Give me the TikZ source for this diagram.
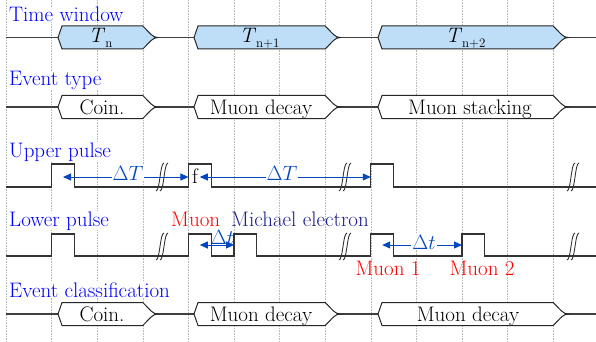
\documentclass[tikz,border=0pt]{standalone}
\usepackage{xcolor}
\usepackage{tikz}
\usetikzlibrary{arrows.meta}

\definecolor{rowblue}{RGB}{0,0,255}
\definecolor{arrowblue}{RGB}{0,70,190}
\definecolor{navyblue}{RGB}{28,28,140}
\definecolor{winfill}{RGB}{190,222,248}
\definecolor{sigline}{RGB}{64,64,64}

\begin{document}
\begin{tikzpicture}[
x=1pt, y=-1pt,
font=\fontsize{21}{25}\selectfont,
grid/.style={densely dotted, gray!55, line width=0.6pt},
sig/.style={sigline, line width=1.3pt},
pulse/.style={black!80, line width=1.2pt},
box/.style={draw=black!85, line width=1pt, fill=white},
row/.style={anchor=base west, inner sep=0pt, fill=white, text=rowblue},
lab/.style={anchor=base, inner sep=0pt},
dt/.style={anchor=base, inner sep=1pt, text=arrowblue},
arr/.style={{Triangle[length=8pt,width=7pt]}-{Triangle[length=8pt,width=7pt]}, arrowblue, line width=1pt},
brk/.style={black!80, line width=0.9pt}
]
\useasboundingbox (0,0) rectangle (596,342);

% Grid
\draw[grid] (6,0) -- (6,342) (51.6,0) -- (51.6,342) (97.2,0) -- (97.2,342)
  (142.8,0) -- (142.8,342) (188.4,0) -- (188.4,342) (234,0) -- (234,342)
  (279.6,0) -- (279.6,342) (325.2,0) -- (325.2,342) (370.8,0) -- (370.8,342)
  (416.4,0) -- (416.4,342) (462,0) -- (462,342) (507.6,0) -- (507.6,342)
  (553.2,0) -- (553.2,342);

% Row labels
\node[row] (twlab) at (9,21.5) {Time window};
\node[row] (etlab) at (9,85) {Event type};
\node[row] (uplab) at (9,157) {Upper pulse};
\node[row] (lplab) at (9,226) {Lower pulse};
\node[row] (eclab) at (9,297) {Event classification};

% Time window
\draw[sig] (6,37.5) -- (596,37.5);
\draw[box, fill=winfill] (58,37.5) -- (62,26) -- (142.8,26) .. controls (150.8,34) and (152.8,37.5) .. (157.8,37.5)
  .. controls (152.8,37.5) and (150.8,41) .. (142.8,49) -- (62,49) -- cycle;
\draw[box, fill=winfill] (194,37.5) -- (198,26) -- (325.2,26) .. controls (333.2,34) and (335.2,37.5) .. (340.2,37.5)
  .. controls (335.2,37.5) and (333.2,41) .. (325.2,49) -- (198,49) -- cycle;
\draw[box, fill=winfill] (378,37.5) -- (382,26) -- (553.2,26) .. controls (561.2,34) and (563.2,37.5) .. (568.2,37.5)
  .. controls (563.2,37.5) and (561.2,41) .. (553.2,49) -- (382,49) -- cycle;
\node[lab] (tn) at (100.5,43) {\textit{T}\raisebox{-5pt}{\fontsize{13}{13}\selectfont n}};
\node[lab] (tn1) at (259.5,43) {\textit{T}\raisebox{-5pt}{\fontsize{13}{13}\selectfont n+1}};
\node[lab] (tn2) at (465.5,43) {\textit{T}\raisebox{-5pt}{\fontsize{13}{13}\selectfont n+2}};

% Event type
\draw[sig] (6,107) -- (596,107);
\draw[box] (58,107) -- (62,95.5) -- (142.8,95.5) .. controls (150.8,103.5) and (152.8,107) .. (157.8,107)
  .. controls (152.8,107) and (150.8,110.5) .. (142.8,118.5) -- (62,118.5) -- cycle;
\draw[box] (194,107) -- (198,95.5) -- (325.2,95.5) .. controls (333.2,103.5) and (335.2,107) .. (340.2,107)
  .. controls (335.2,107) and (333.2,110.5) .. (325.2,118.5) -- (198,118.5) -- cycle;
\draw[box] (378,107) -- (382,95.5) -- (553.2,95.5) .. controls (561.2,103.5) and (563.2,107) .. (568.2,107)
  .. controls (563.2,107) and (561.2,110.5) .. (553.2,118.5) -- (382,118.5) -- cycle;
\node[lab] (et1) at (102,114) {Coin.};
\node[lab] (et2) at (261,114) {Muon decay};
\node[lab] (et3) at (470,114) {Muon stacking};

% Upper pulse
\draw[pulse] (6,187) -- (51.6,187) -- (51.6,164) -- (74.4,164) -- (74.4,187) -- (188.4,187) -- (188.4,164)
  -- (211.2,164) -- (211.2,187) -- (370.8,187) -- (370.8,164) -- (393.6,164) -- (393.6,187) -- (596,187);
\draw[brk] (156,191) .. controls (160,191) and (160,163) .. (164,163);
\draw[brk] (160,191) .. controls (164,191) and (164,163) .. (168,163);
\draw[brk] (339,191) .. controls (343,191) and (343,163) .. (347,163);
\draw[brk] (343,191) .. controls (347,191) and (347,163) .. (351,163);
\draw[brk] (567,191) .. controls (571,191) and (571,163) .. (575,163);
\draw[brk] (571,191) .. controls (575,191) and (575,163) .. (579,163);
\node[lab] (fl) at (195,183) {f};
\coordinate (u1) at (63,177);
\coordinate (u2) at (188.4,177);
\coordinate (u3) at (199.8,177);
\coordinate (u4) at (370.8,177);
\draw[arr] (u1) -- (u2);
\draw[arr] (u3) -- (u4);
\node[dt, fill=white] (dT1) at (128,180) {$\Delta T$};
\node[dt, fill=white] (dT2) at (282,180) {$\Delta T$};

% Lower pulse
\draw[pulse] (6,256) -- (51.6,256) -- (51.6,234) -- (74.4,234) -- (74.4,256) -- (188.4,256) -- (188.4,234)
  -- (211.2,234) -- (211.2,256) -- (234,256) -- (234,234) -- (256.8,234) -- (256.8,256) -- (370.8,256)
  -- (370.8,234) -- (393.6,234) -- (393.6,256) -- (462,256) -- (462,234) -- (484.8,234) -- (484.8,256) -- (596,256);
\draw[brk] (156,260) .. controls (160,260) and (160,233) .. (164,233);
\draw[brk] (160,260) .. controls (164,260) and (164,233) .. (168,233);
\draw[brk] (339,260) .. controls (343,260) and (343,233) .. (347,233);
\draw[brk] (343,260) .. controls (347,260) and (347,233) .. (351,233);
\draw[brk] (567,260) .. controls (571,260) and (571,233) .. (575,233);
\draw[brk] (571,260) .. controls (575,260) and (575,233) .. (579,233);
\node[lab, anchor=base west, text=red] (mu) at (171,226) {Muon};
\node[lab, anchor=base west, text=navyblue] (mich) at (231,226) {Michael electron};
\coordinate (l1) at (199.8,245);
\coordinate (l2) at (234,245);
\coordinate (l3) at (382.2,245);
\coordinate (l4) at (462,245);
\draw[arr] (l1) -- (l2);
\draw[arr] (l3) -- (l4);
\node[dt, inner sep=0pt] (dt1) at (222.5,244) {$\Delta t$};
\node[dt, fill=white] (dt2) at (424,249) {$\Delta t$};
\node[lab, text=red] (mu1) at (388,275) {Muon 1};
\node[lab, text=red] (mu2) at (482,275) {Muon 2};

% Event classification
\draw[sig] (6,314) -- (596,314);
\draw[box] (58,314) -- (62,302.5) -- (142.8,302.5) .. controls (150.8,310.5) and (152.8,314) .. (157.8,314)
  .. controls (152.8,314) and (150.8,317.5) .. (142.8,325.5) -- (62,325.5) -- cycle;
\draw[box] (194,314) -- (198,302.5) -- (325.2,302.5) .. controls (333.2,310.5) and (335.2,314) .. (340.2,314)
  .. controls (335.2,314) and (333.2,317.5) .. (325.2,325.5) -- (198,325.5) -- cycle;
\draw[box] (378,314) -- (382,302.5) -- (553.2,302.5) .. controls (561.2,310.5) and (563.2,314) .. (568.2,314)
  .. controls (563.2,314) and (561.2,317.5) .. (553.2,325.5) -- (382,325.5) -- cycle;
\node[lab] (ec1) at (102,321) {Coin.};
\node[lab] (ec2) at (261,321) {Muon decay};
\node[lab] (ec3) at (468,321) {Muon decay};

\end{tikzpicture}
\end{document}
